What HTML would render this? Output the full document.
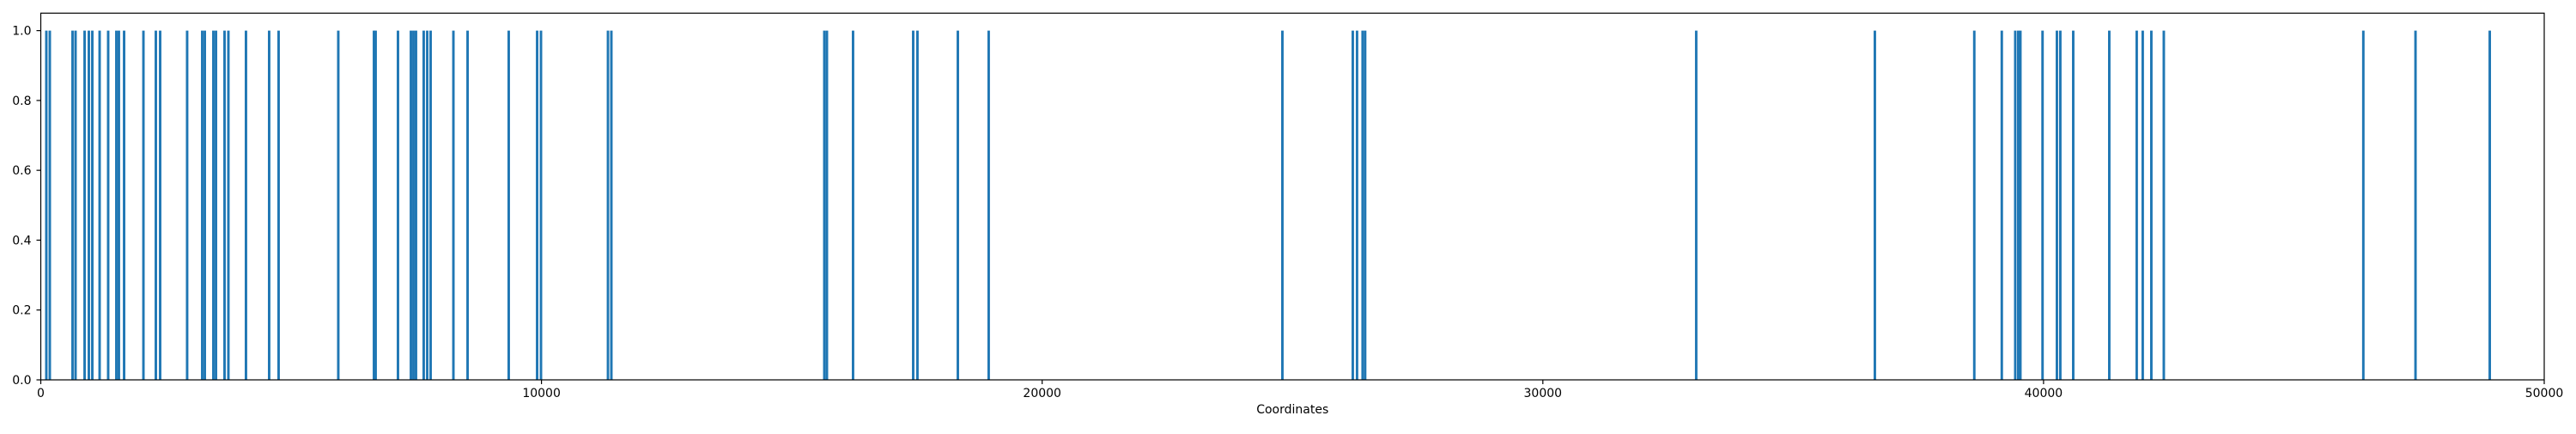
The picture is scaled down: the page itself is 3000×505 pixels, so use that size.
<!DOCTYPE html>
<html><head><meta charset="utf-8"><style>
html,body{margin:0;padding:0;background:#fff;}
svg text{font-family:"DejaVu Sans","Liberation Sans",sans-serif;font-size:14px;fill:#000;}
</style></head><body>
<svg id="chart" width="3000" height="500" xmlns="http://www.w3.org/2000/svg">
<rect width="3000" height="500" fill="#fff"/>
<g id="bars"></g>
<g id="axes"></g>
</svg>
<script>
const positions = [111,180,634,694,875,960,1029,1175,1346,1509,1560,1664,2050,2298,2384,2923,3224,3276,3447,3499,3670,3747,4098,4561,4750,5942,6654,6688,7134,7392,7443,7494,7648,7718,7786,8241,
8524,9346,9913,9990,11328,11396,15649,15701,16223,17424,17509,18316,18932,24798,26204,26289,26400,26451,33063,
36631,38617,39166,39435,39495,39538,39980,40267,40335,40593,41313,41861,41981,42153,42402,46387,47429,48912];
const heights = positions.map(()=>1);
const xTicks = [0,10000,20000,30000,40000,50000];
const yTicks = [0,0.2,0.4,0.6,0.8,1.0];
const yTickLabels = ["0.0","0.2","0.4","0.6","0.8","1.0"];

const L=47.5,R=2963,T=15.3,B=442,XMAX=50000,YMAX=1.05,BW=50;
const sx=v=>L+(v/XMAX)*(R-L);
const sy=v=>B-(v/YMAX)*(B-T);
const NS="http://www.w3.org/2000/svg";
const bars=document.getElementById('bars'), axes=document.getElementById('axes');
function mk(tag,attrs,parent){const e=document.createElementNS(NS,tag);for(const k in attrs)e.setAttribute(k,attrs[k]);parent.appendChild(e);return e;}
positions.forEach((p,i)=>{
  const x0=sx(p-BW/2), x1=sx(p+BW/2);
  const r=mk('rect',{x:x0,y:sy(heights[i]),width:Math.max(x1-x0,2.6),height:B-sy(heights[i]),fill:'#1f77b4'},bars);
  
  
});
const frame=mk('rect',{x:L,y:T,width:R-L,height:B-T,fill:'none',stroke:'#000','stroke-width':1.2},axes);


xTicks.forEach(v=>{
  mk('line',{x1:sx(v),x2:sx(v),y1:B,y2:B+5,stroke:'#000','stroke-width':1.2},axes);
  const t=mk('text',{x:sx(v),y:B+20,'text-anchor':'middle'},axes);
  t.textContent=v;
  
  
});
yTicks.forEach((v,i)=>{
  mk('line',{x1:L-5,x2:L,y1:sy(v),y2:sy(v),stroke:'#000','stroke-width':1.2},axes);
  const t=mk('text',{x:L-11,y:sy(v)+5,'text-anchor':'end'},axes);
  t.textContent=yTickLabels[i];
  
  
});
const xl=mk('text',{x:(L+R)/2,y:481,'text-anchor':'middle'},axes);
xl.textContent='Coordinates';


</script>
</body></html>
